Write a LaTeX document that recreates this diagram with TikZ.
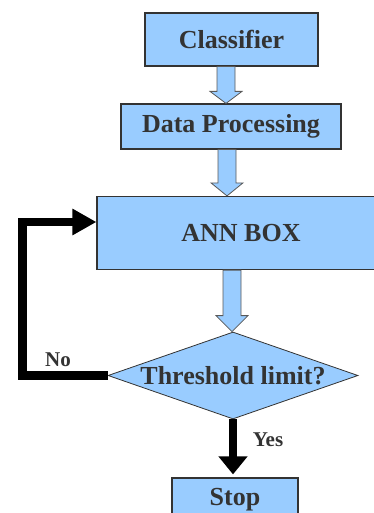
\documentclass[tikz,border=0pt]{standalone}
\usepackage{fontspec}
\setmainfont{Liberation Serif}
\usetikzlibrary{calc,shapes.geometric,arrows.meta}

\definecolor{boxblue}{HTML}{99CCFF}
\definecolor{ink}{HTML}{333333}

% hollow block arrow: from, to, axis x, head length
\newcommand{\fatarrow}[4]{%
  \draw[fat] let \p1=(#1), \p2=(#2) in
    ({#3pt-9pt},\y1) -- ({#3pt-9pt},{\y2+#4pt}) -- ({#3pt-16pt},{\y2+#4pt})
    -- (#3pt,\y2) -- ({#3pt+16pt},{\y2+#4pt}) -- ({#3pt+9pt},{\y2+#4pt})
    -- ({#3pt+9pt},\y1) -- cycle;}

\begin{document}
\begin{tikzpicture}[x=1pt,y=-1pt,
  box/.style={draw=ink,line width=1.2pt,fill=boxblue,text=ink,
    font=\bfseries\fontsize{26}{30}\selectfont},
  fat/.style={draw=black!65,line width=0.8pt,fill=boxblue},
  heavy/.style={draw=black,line width=8.5pt},
  lbl/.style={text=ink,font=\bfseries\fontsize{21}{24}\selectfont}]
  \useasboundingbox (0,0) rectangle (374,513);
  \path[clip] (0,0) rectangle (374,513);

  \node[box,minimum width=173pt,minimum height=53pt] (cls) at (231.5,39.5) {Classifier};
  \node[box,minimum width=220pt,minimum height=45pt] (dp) at (231,126.5) {Data Processing};
  \node[box,minimum width=288pt,minimum height=73pt] (ann) at (241,233) {ANN BOX};
  \node[box,diamond,aspect=2.87,inner sep=0pt,line width=0.8pt,
    minimum width=250pt,minimum height=87pt] (thr) at (233,375.5) {Threshold limit?};
  \node[box,minimum width=126pt,minimum height=44pt] (stop) at (235,500) {Stop};

  \fatarrow{cls.south}{dp.north}{226}{12}
  \fatarrow{dp.south}{ann.north}{227}{13}
  \fatarrow{ann.south}{thr.north}{232}{16}

  % loop back when the limit is not reached
  \coordinate (back) at ($(ann.west)+(0,-11)$);
  \draw[heavy,-{Triangle[length=24pt,width=25pt]}] (thr.west) -- ++(-85,0) |- (back);
  \node[lbl] (no) at (58,360) {No};

  \draw[heavy,line width=8pt,-{Triangle[length=18pt,width=28pt]},shorten >=3pt]
    (thr.south) -- (thr.south |- stop.north);
  \node[lbl] (yes) at (268,440) {Yes};
\end{tikzpicture}
\end{document}
